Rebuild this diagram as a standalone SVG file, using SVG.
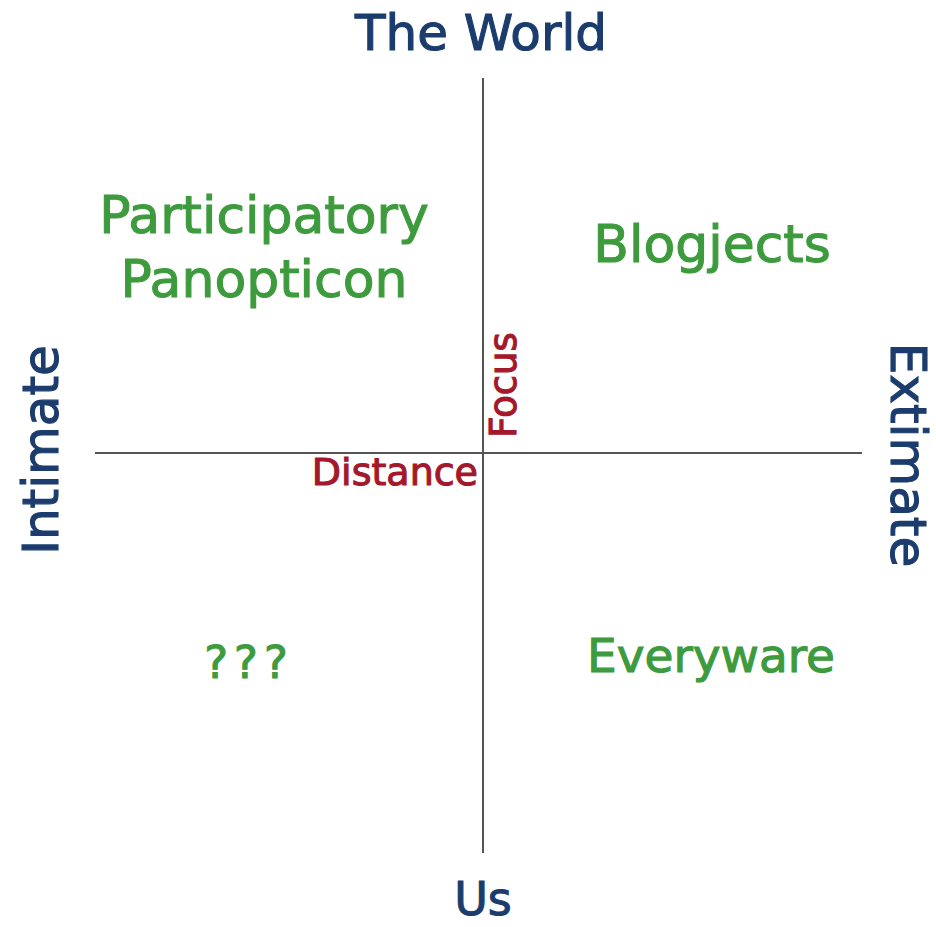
<svg xmlns="http://www.w3.org/2000/svg" width="936" height="927" viewBox="0 0 936 927">
<style>
text { font-family: "DejaVu Sans", Verdana, sans-serif; stroke-width: 1.1px; }
.axis { fill: #1b3c6d; stroke: #1b3c6d; font-size: 50px; }
.quad { fill: #3d9b3d; stroke: #3d9b3d; font-size: 52px; }
.dim { fill: #a3192b; stroke: #a3192b; font-size: 38px; }
.ln { stroke: #555; stroke-width: 2; fill: none; }
</style>
<rect width="936" height="927" fill="#fff"/>
<g id="connectors">
<line class="ln" x1="483" y1="78" x2="483" y2="853"/>
<line class="ln" x1="95" y1="453" x2="862" y2="453"/>
</g>
<g id="the-world"><text class="axis" x="481" y="50" text-anchor="middle">The World</text></g>
<g id="us"><text class="axis" x="483" y="915" text-anchor="middle" style="font-size:46px">Us</text></g>
<g id="intimate"><text class="axis" transform="translate(58,450) rotate(-90)" text-anchor="middle">Intimate</text></g>
<g id="extimate"><text class="axis" transform="translate(891,455) rotate(90)" text-anchor="middle">Extimate</text></g>
<g id="focus"><text class="dim" transform="translate(516,385) rotate(-90)" text-anchor="middle" style="font-size:37px">Focus</text></g>
<g id="distance"><text class="dim" x="478" y="485" text-anchor="end">Distance</text></g>
<g id="participatory-panopticon">
<text class="quad" x="264" y="233" text-anchor="middle">Participatory</text>
<text class="quad" x="264" y="297" text-anchor="middle">Panopticon</text>
</g>
<g id="blogjects"><text class="quad" x="712" y="262" text-anchor="middle">Blogjects</text></g>
<g id="everyware"><text class="quad" x="711" y="672" text-anchor="middle" style="font-size:47px">Everyware</text></g>
<g id="unknown"><text class="quad" x="249" y="678" text-anchor="middle" style="font-size:45px;letter-spacing:6px">???</text></g>
</svg>
